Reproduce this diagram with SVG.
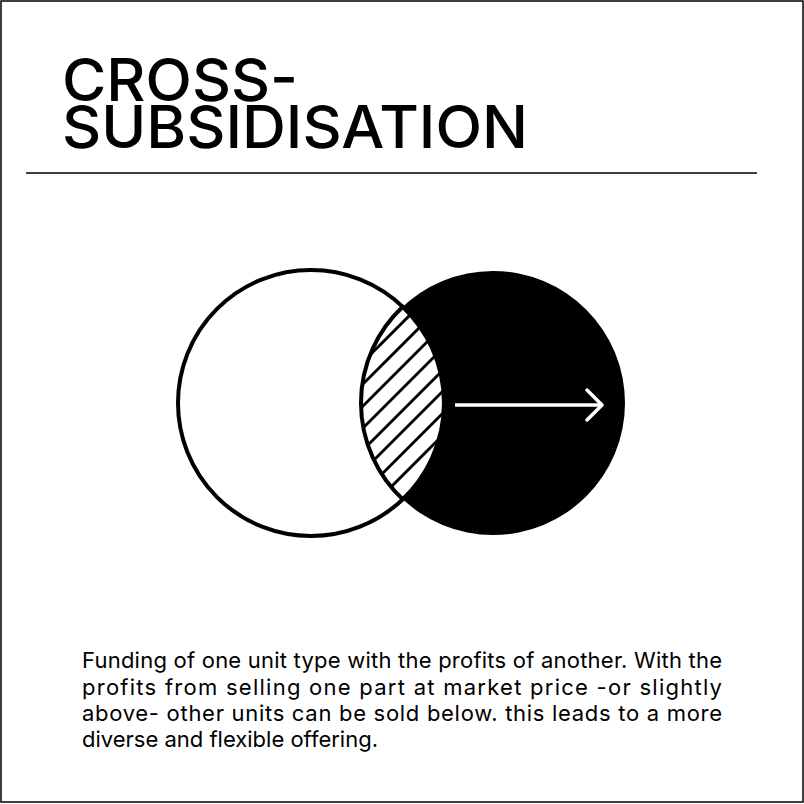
<svg xmlns="http://www.w3.org/2000/svg" width="804" height="804" viewBox="0 0 804 804">
  <style>
    .title { font-family: Inter, "Liberation Sans", sans-serif; font-size: 59px; font-weight: 500; fill: #000; }
    .body { font-family: Inter, "Liberation Sans", sans-serif; font-size: 22px; fill: #000; }
    .hatch { stroke: #000; stroke-width: 3; }
  </style>
  <defs>
    <clipPath id="lensClip">
      <path d="M 402.7 306.7 A 133 133 0 0 1 402.7 499.3 A 132 132 0 0 1 402.7 306.7 Z"/>
    </clipPath>
  </defs>
  <rect x="0" y="0" width="804" height="804" fill="#fff"/>
  <rect x="1" y="1" width="802" height="801" fill="none" stroke="#000" stroke-width="1.5"/>

  <g id="title">
    <text class="title" x="62" y="101" textLength="236" lengthAdjust="spacingAndGlyphs">CROSS-</text>
    <text class="title" x="62" y="148" textLength="466" lengthAdjust="spacingAndGlyphs">SUBSIDISATION</text>
    <line x1="26" y1="173" x2="757" y2="173" stroke="#000" stroke-width="1.5"/>
  </g>

  <g id="circle-left">
    <circle cx="311" cy="403" r="133" fill="#fff" stroke="#000" stroke-width="4"/>
  </g>
  <g id="circle-right">
    <circle cx="493" cy="403" r="132" fill="#000"/>
  </g>
  <g id="overlap">
    <path d="M 402.7 306.7 A 133 133 0 0 1 402.7 499.3 A 132 132 0 0 1 402.7 306.7 Z" fill="#fff"/>
    <g clip-path="url(#lensClip)">
      <line class="hatch" x1="300" y1="425" x2="500" y2="225"/>
      <line class="hatch" x1="300" y1="447" x2="500" y2="247"/>
      <line class="hatch" x1="300" y1="469" x2="500" y2="269"/>
      <line class="hatch" x1="300" y1="491" x2="500" y2="291"/>
      <line class="hatch" x1="300" y1="513" x2="500" y2="313"/>
      <line class="hatch" x1="300" y1="534" x2="500" y2="334"/>
      <line class="hatch" x1="300" y1="556" x2="500" y2="356"/>
      <line class="hatch" x1="300" y1="578" x2="500" y2="378"/>
    </g>
    <path d="M 402.7 306.7 A 133 133 0 0 1 402.7 499.3 A 132 132 0 0 1 402.7 306.7 Z" fill="none" stroke="#000" stroke-width="4"/>
  </g>

  <g id="connectors">
    <line x1="455" y1="405" x2="602" y2="405" stroke="#fff" stroke-width="3.5"/>
    <polyline points="587,390 602,405 587,420" fill="none" stroke="#fff" stroke-width="3.5" stroke-linecap="round" stroke-linejoin="round"/>
  </g>

  <g id="description">
    <text class="body" x="82" y="668" textLength="640" lengthAdjust="spacing">Funding of one unit type with the profits of another. With the</text>
    <text class="body" x="82" y="695" textLength="640" lengthAdjust="spacing">profits from selling one part at market price -or slightly</text>
    <text class="body" x="82" y="721" textLength="640" lengthAdjust="spacing">above- other units can be sold below. this leads to a more</text>
    <text class="body" x="82" y="747">diverse and flexible offering.</text>
  </g>
</svg>
